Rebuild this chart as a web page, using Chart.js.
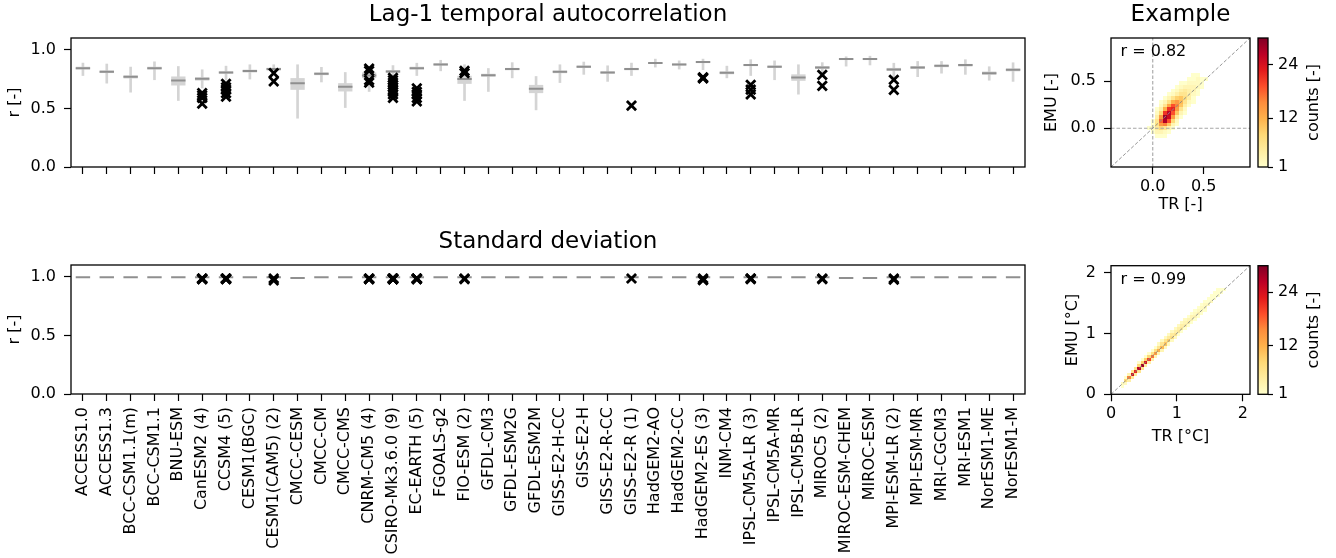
<!DOCTYPE html>
<html>
<head>
<meta charset="utf-8">
<script src="https://cdn.jsdelivr.net/npm/chart.js@4.4.0/dist/chart.umd.min.js"></script>
<style>
body { margin: 0; background: #fff; width: 1336px; height: 558px; position: relative; overflow: hidden; }
canvas { position: absolute; }
</style>
</head>
<body>
<canvas id="lag" width="1040" height="200" style="left:0;top:0"></canvas>
<canvas id="sd" width="1040" height="358" style="left:0;top:200px"></canvas>
<canvas id="exLag" width="216" height="220" style="left:1040px;top:0"></canvas>
<canvas id="exSd" width="216" height="250" style="left:1040px;top:200px"></canvas>
<canvas id="cbLag" width="86" height="200" style="left:1250px;top:0"></canvas>
<canvas id="cbSd" width="86" height="250" style="left:1250px;top:200px"></canvas>
<script>
// ---- data ----
const models = ['ACCESS1.0', 'ACCESS1.3', 'BCC-CSM1.1(m)', 'BCC-CSM1.1', 'BNU-ESM', 'CanESM2 (4)', 'CCSM4 (5)',
  'CESM1(BGC)', 'CESM1(CAM5) (2)', 'CMCC-CESM', 'CMCC-CM', 'CMCC-CMS', 'CNRM-CM5 (4)', 'CSIRO-Mk3.6.0 (9)',
  'EC-EARTH (5)', 'FGOALS-g2', 'FIO-ESM (2)', 'GFDL-CM3', 'GFDL-ESM2G', 'GFDL-ESM2M', 'GISS-E2-H-CC', 'GISS-E2-H',
  'GISS-E2-R-CC', 'GISS-E2-R (1)', 'HadGEM2-AO', 'HadGEM2-CC', 'HadGEM2-ES (3)', 'INM-CM4', 'IPSL-CM5A-LR (3)',
  'IPSL-CM5A-MR', 'IPSL-CM5B-LR', 'MIROC5 (2)', 'MIROC-ESM-CHEM', 'MIROC-ESM', 'MPI-ESM-LR (2)', 'MPI-ESM-MR',
  'MRI-CGCM3', 'MRI-ESM1', 'NorESM1-ME', 'NorESM1-M'];

// lag-1 autocorrelation box plots
const lagMedian = [0.843, 0.812, 0.769, 0.843, 0.738, 0.752, 0.806, 0.818, 0.835, 0.715, 0.795, 0.684, 0.780, 0.815,
  0.843, 0.875, 0.750, 0.783, 0.835, 0.667, 0.812, 0.855, 0.806, 0.835, 0.886, 0.875, 0.895, 0.803, 0.869, 0.855,
  0.764, 0.849, 0.920, 0.920, 0.832, 0.849, 0.863, 0.869, 0.800, 0.829];
const lagQ1 = [0.832, 0.801, 0.755, 0.832, 0.695, 0.737, 0.795, 0.806, 0.822, 0.658, 0.783, 0.644, 0.758, 0.803,
  0.832, 0.866, 0.709, 0.770, 0.825, 0.630, 0.800, 0.845, 0.795, 0.825, 0.879, 0.866, 0.886, 0.791, 0.860, 0.845,
  0.735, 0.836, 0.912, 0.912, 0.819, 0.836, 0.851, 0.857, 0.787, 0.816];
const lagQ3 = [0.855, 0.823, 0.781, 0.855, 0.772, 0.765, 0.816, 0.830, 0.846, 0.758, 0.806, 0.715, 0.806, 0.826,
  0.855, 0.885, 0.778, 0.795, 0.845, 0.700, 0.822, 0.865, 0.815, 0.845, 0.894, 0.883, 0.902, 0.815, 0.878, 0.865,
  0.790, 0.860, 0.928, 0.928, 0.845, 0.860, 0.872, 0.879, 0.814, 0.840];
const lagLow = [0.780, 0.715, 0.638, 0.744, 0.567, 0.673, 0.740, 0.750, 0.790, 0.416, 0.725, 0.507, 0.644, 0.740,
  0.780, 0.820, 0.567, 0.644, 0.760, 0.487, 0.720, 0.790, 0.730, 0.780, 0.852, 0.835, 0.830, 0.760, 0.780, 0.744,
  0.621, 0.770, 0.860, 0.870, 0.770, 0.770, 0.800, 0.790, 0.740, 0.730];
const lagHigh = [0.886, 0.878, 0.852, 0.897, 0.857, 0.829, 0.860, 0.872, 0.872, 0.872, 0.850, 0.806, 0.857, 0.865,
  0.885, 0.910, 0.872, 0.840, 0.890, 0.772, 0.872, 0.895, 0.863, 0.886, 0.920, 0.905, 0.920, 0.860, 0.915, 0.905,
  0.872, 0.890, 0.940, 0.945, 0.885, 0.900, 0.900, 0.915, 0.855, 0.889];

// standard deviation medians
const sdMedian = [0.995, 0.995, 0.995, 0.995, 0.995, 0.995, 0.995, 0.995, 0.995, 0.990, 0.995, 0.995, 0.995, 0.995,
  0.995, 0.995, 0.995, 0.995, 0.995, 0.995, 0.995, 0.995, 0.995, 0.995, 0.995, 0.995, 0.995, 0.995, 0.995, 0.995,
  0.995, 0.995, 0.990, 0.990, 0.995, 0.995, 0.995, 0.995, 0.995, 0.995];

// single ensemble members (black crosses)
const memberOf = [
  'CanESM2 (4)', 'CanESM2 (4)', 'CanESM2 (4)', 'CanESM2 (4)',
  'CCSM4 (5)', 'CCSM4 (5)', 'CCSM4 (5)', 'CCSM4 (5)', 'CCSM4 (5)',
  'CESM1(CAM5) (2)', 'CESM1(CAM5) (2)',
  'CNRM-CM5 (4)', 'CNRM-CM5 (4)', 'CNRM-CM5 (4)', 'CNRM-CM5 (4)',
  'CSIRO-Mk3.6.0 (9)', 'CSIRO-Mk3.6.0 (9)', 'CSIRO-Mk3.6.0 (9)', 'CSIRO-Mk3.6.0 (9)', 'CSIRO-Mk3.6.0 (9)',
  'CSIRO-Mk3.6.0 (9)', 'CSIRO-Mk3.6.0 (9)', 'CSIRO-Mk3.6.0 (9)', 'CSIRO-Mk3.6.0 (9)',
  'EC-EARTH (5)', 'EC-EARTH (5)', 'EC-EARTH (5)', 'EC-EARTH (5)', 'EC-EARTH (5)',
  'FIO-ESM (2)', 'FIO-ESM (2)',
  'GISS-E2-R (1)',
  'HadGEM2-ES (3)', 'HadGEM2-ES (3)', 'HadGEM2-ES (3)',
  'IPSL-CM5A-LR (3)', 'IPSL-CM5A-LR (3)', 'IPSL-CM5A-LR (3)',
  'MIROC5 (2)', 'MIROC5 (2)',
  'MPI-ESM-LR (2)', 'MPI-ESM-LR (2)'];
const lagMembers = [0.63, 0.61, 0.59, 0.54,
  0.71, 0.68, 0.66, 0.63, 0.60,
  0.80, 0.73,
  0.84, 0.82, 0.74, 0.72,
  0.76, 0.74, 0.72, 0.70, 0.68, 0.66, 0.64, 0.62, 0.59,
  0.67, 0.64, 0.62, 0.59, 0.56,
  0.82, 0.80,
  0.524,
  0.765, 0.76, 0.755,
  0.70, 0.66, 0.62,
  0.786, 0.692,
  0.744, 0.658];
const sdMembers = [0.985, 0.985, 0.98, 0.98,
  0.985, 0.985, 0.98, 0.98, 0.985,
  0.985, 0.968,
  0.985, 0.985, 0.98, 0.98,
  0.985, 0.985, 0.98, 0.98, 0.985, 0.985, 0.98, 0.98, 0.985,
  0.985, 0.985, 0.98, 0.98, 0.985,
  0.985, 0.98,
  0.985,
  0.985, 0.975, 0.97,
  0.985, 0.985, 0.98,
  0.985, 0.98,
  0.985, 0.975];

const rTicks = [0.0, 0.5, 1.0];

// example 2d histogram, lag-1 autocorrelation (rows from top to bottom)
const acBinX = [-0.06, -0.02, 0.02, 0.06, 0.10, 0.14, 0.18, 0.22, 0.26, 0.30, 0.34, 0.38, 0.42, 0.46, 0.50];
const acBinY = [0.54, 0.50, 0.46, 0.42, 0.38, 0.34, 0.30, 0.26, 0.22, 0.18, 0.14, 0.10, 0.06, 0.02, -0.02, -0.06, -0.10];
const acCounts = [
  [0, 0, 0, 0, 0, 0, 0, 0, 0, 0, 0, 1, 1, 0, 0],
  [0, 0, 0, 0, 0, 0, 0, 0, 0, 0, 1, 1, 2, 1, 1],
  [0, 0, 0, 0, 0, 0, 0, 0, 1, 1, 2, 2, 2, 1, 0],
  [0, 0, 0, 0, 0, 0, 0, 1, 2, 3, 3, 3, 2, 1, 0],
  [0, 0, 0, 0, 0, 0, 1, 2, 4, 5, 4, 3, 1, 0, 0],
  [0, 0, 0, 0, 0, 1, 2, 4, 6, 6, 4, 2, 1, 0, 0],
  [0, 0, 0, 0, 1, 3, 6, 9, 10, 7, 4, 1, 0, 0, 0],
  [0, 0, 0, 1, 3, 7, 12, 14, 11, 6, 2, 1, 0, 0, 0],
  [0, 0, 0, 2, 6, 13, 19, 16, 10, 4, 1, 0, 0, 0, 0],
  [0, 0, 1, 4, 12, 21, 22, 14, 6, 2, 0, 0, 0, 0, 0],
  [0, 0, 2, 8, 21, 26, 19, 10, 3, 1, 0, 0, 0, 0, 0],
  [0, 0, 4, 14, 28, 25, 14, 5, 1, 0, 0, 0, 0, 0, 0],
  [0, 1, 6, 18, 27, 19, 8, 2, 0, 0, 0, 0, 0, 0, 0],
  [0, 1, 7, 14, 16, 10, 3, 1, 0, 0, 0, 0, 0, 0, 0],
  [1, 2, 5, 8, 6, 3, 1, 0, 0, 0, 0, 0, 0, 0, 0],
  [0, 1, 3, 3, 2, 1, 0, 0, 0, 0, 0, 0, 0, 0, 0],
  [0, 0, 1, 1, 1, 0, 0, 0, 0, 0, 0, 0, 0, 0, 0]];

// example 2d histogram, standard deviation (band along the 1:1 line)
const sdBinX = [0.15, 0.20, 0.25, 0.30, 0.35, 0.40, 0.45, 0.50, 0.55, 0.60, 0.65, 0.70, 0.75, 0.80, 0.85, 0.90,
  0.95, 1.00, 1.05, 1.10, 1.15, 1.20, 1.25, 1.30, 1.35, 1.40, 1.45, 1.50, 1.55, 1.60, 1.65, 1.70];
const sdOnLine = [2, 8, 16, 24, 22, 26, 28, 24, 20, 17, 14, 12, 11, 10, 9, 7, 6, 5, 5, 4, 4, 3, 3, 3, 2, 2, 2, 2, 1, 1, 1, 1];
const sdAbove = [0, 1, 3, 6, 6, 8, 9, 9, 8, 7, 7, 6, 6, 6, 5, 5, 4, 4, 4, 3, 3, 3, 2, 2, 2, 2, 1, 1, 1, 1, 1, 0];
const sdAbove2 = [0, 0, 0, 0, 0, 1, 1, 1, 1, 1, 1, 2, 2, 2, 2, 2, 2, 2, 2, 2, 1, 1, 1, 1, 1, 1, 1, 1, 1, 1, 0, 0];
const sdBelow = [1, 2, 4, 5, 5, 6, 6, 5, 4, 4, 3, 3, 3, 2, 2, 2, 2, 1, 1, 1, 1, 1, 1, 1, 1, 1, 0, 0, 0, 0, 0, 0];

const cbTicks = [1, 12, 24];

// ---- styles ----
const CMIN = 1, CMAX = 30;
const YLORRD = ['#ffffcc', '#ffeda0', '#fed976', '#feb24c', '#fd8d3c', '#fc4e2a', '#e31a1c', '#bd0026', '#800026'];
const WHISKER = '#d4d4d4', BOX = '#d4d4d4', MEDIAN = '#8f8f8f';

Chart.defaults.font.family = "'DejaVu Sans', sans-serif";
Chart.defaults.font.size = 16;
Chart.defaults.color = '#000';
Chart.defaults.animation = false;
Chart.defaults.events = [];
Chart.defaults.plugins.legend.display = false;
Chart.defaults.plugins.tooltip.enabled = false;

function hexRgb(h) {
  return [parseInt(h.slice(1, 3), 16), parseInt(h.slice(3, 5), 16), parseInt(h.slice(5, 7), 16)];
}
function cmap(t) {
  t = Math.max(0, Math.min(1, t));
  const p = t * (YLORRD.length - 1);
  const i = Math.min(Math.floor(p), YLORRD.length - 2);
  const f = p - i;
  const a = hexRgb(YLORRD[i]), b = hexRgb(YLORRD[i + 1]);
  const c = a.map((v, k) => Math.round(v + (b[k] - v) * f));
  return `rgb(${c[0]},${c[1]},${c[2]})`;
}

// axes frame, drawn over the data like matplotlib spines
const frame = {
  id: 'frame',
  afterDatasetsDraw(chart) {
    const a = chart.chartArea, ctx = chart.ctx;
    ctx.save();
    ctx.strokeStyle = '#000';
    ctx.lineWidth = 1.3;
    ctx.strokeRect(a.left, a.top, a.right - a.left, a.bottom - a.top);
    ctx.restore();
  }
};

function makeBoxChart(id, titleText, titleTop, axisHeight, median, q1, q3, low, high, members, showLabels) {
  const datasets = [];
  if (low) {
    datasets.push({ type: 'bar', data: low.map((v, i) => [v, high[i]]), backgroundColor: WHISKER,
      barThickness: 2, grouped: false, order: 4 });
  }
  if (q1) {
    datasets.push({ type: 'bar', data: q1.map((v, i) => [v, q3[i]]), backgroundColor: BOX,
      barPercentage: 0.6, categoryPercentage: 1, grouped: false, order: 3 });
  }
  datasets.push({ type: 'line', data: median, showLine: false, pointStyle: 'line', pointRadius: 7.2,
    pointBorderColor: MEDIAN, borderColor: MEDIAN, pointBorderWidth: 2, order: 2 });
  datasets.push({ type: 'line', data: members.map((v, i) => ({ x: memberOf[i], y: v })), showLine: false,
    pointStyle: 'crossRot', pointRadius: 6.5, pointBorderColor: '#000', borderColor: '#000',
    pointBorderWidth: 2.8, order: 1 });

  return new Chart(document.getElementById(id), {
    type: 'bar',
    data: { labels: models, datasets },
    options: {
      responsive: false,
      layout: { padding: { left: 0, right: 15, top: 0, bottom: 0 } },
      plugins: {
        title: { display: true, text: titleText, fullSize: false, color: '#000',
          font: { size: 23, weight: 'normal' }, padding: { top: titleTop, bottom: 9.2 } }
      },
      scales: {
        x: {
          grid: { offset: false, drawOnChartArea: false, tickLength: 7, color: '#000', tickWidth: 1.2 },
          border: { display: false },
          ticks: { display: showLabels, autoSkip: false, minRotation: 90, maxRotation: 90, padding: 6 },
          afterFit(s) { s.height = axisHeight; }
        },
        y: {
          min: 0, max: 1.1,
          grid: { drawOnChartArea: false, tickLength: 7, color: '#000', tickWidth: 1.2 },
          border: { display: false },
          ticks: { padding: 8, callback: v => v.toFixed(1) },
          afterBuildTicks(s) { s.ticks = rTicks.map(v => ({ value: v })); },
          afterFit(s) { s.width = 71; },
          title: { display: true, text: 'r [-]', padding: { top: 5.4, bottom: 0 } }
        }
      }
    },
    plugins: [frame]
  });
}

function makeHist(id, opt) {
  const cellsPlugin = {
    id: 'hist2d',
    beforeDatasetsDraw(chart) {
      const { ctx, chartArea: a, scales: { x, y } } = chart;
      ctx.save();
      ctx.beginPath();
      ctx.rect(a.left, a.top, a.right - a.left, a.bottom - a.top);
      ctx.clip();
      for (const c of opt.cells) {
        const x0 = Math.round(x.getPixelForValue(c.x)), x1 = Math.round(x.getPixelForValue(c.x + opt.bin));
        const y0 = Math.round(y.getPixelForValue(c.y)), y1 = Math.round(y.getPixelForValue(c.y + opt.bin));
        ctx.fillStyle = cmap((c.n - CMIN) / (CMAX - CMIN));
        ctx.fillRect(x0, y1, x1 - x0, y0 - y1);
      }
      ctx.restore();
    },
    afterDatasetsDraw(chart) {
      const { ctx, chartArea: a } = chart;
      ctx.save();
      ctx.font = "16px 'DejaVu Sans'";
      ctx.fillStyle = '#000';
      ctx.textBaseline = 'middle';
      ctx.fillText(opt.note, a.left + 9.5, a.top + 14);
      ctx.restore();
    }
  };
  const lo = opt.lim[0], hi = opt.lim[1];
  const refLine = (pts, color, width) => ({ type: 'line', data: pts, showLine: true, pointRadius: 0,
    borderColor: color, borderWidth: width, borderDash: [3.5, 2] });
  const datasets = [refLine([{ x: lo, y: lo }, { x: hi, y: hi }], '#8a8a8a', 0.9)];
  if (opt.zeroLines) {
    datasets.push(refLine([{ x: 0, y: lo }, { x: 0, y: hi }], '#a6a6a6', 1.1));
    datasets.push(refLine([{ x: lo, y: 0 }, { x: hi, y: 0 }], '#a6a6a6', 1.1));
  }
  const axis = (titleText, titlePad, extra) => Object.assign({
    type: 'linear', min: lo, max: hi,
    grid: { drawOnChartArea: false, tickLength: 7, color: '#000', tickWidth: 1.2 },
    border: { display: false },
    ticks: { callback: v => opt.fmt(v) },
    afterBuildTicks(s) { s.ticks = opt.ticks.map(v => ({ value: v })); },
    title: { display: true, text: titleText, padding: titlePad }
  }, extra);
  return new Chart(document.getElementById(id), {
    type: 'scatter',
    data: { datasets },
    options: {
      responsive: false,
      layout: { padding: { left: 0, right: 6, top: opt.padTop, bottom: 0 } },
      plugins: {
        title: { display: !!opt.title, text: opt.title, fullSize: false, color: '#000',
          font: { size: 23, weight: 'normal' }, padding: { top: 1.2, bottom: 9.2 } }
      },
      scales: {
        x: axis(opt.xTitle, { top: 0, bottom: opt.xTitlePad },
          { ticks: { padding: 3, callback: v => opt.fmt(v) }, afterFit(s) { s.height = opt.axisHeight; } }),
        y: axis(opt.yTitle, { top: opt.yTitlePad, bottom: 0 },
          { ticks: { padding: 8, callback: v => opt.fmt(v) }, afterFit(s) { s.width = 71; } })
      }
    },
    plugins: [cellsPlugin, frame]
  });
}

function makeColorbar(id, padTop, padBottom) {
  const bar = {
    id: 'cbar',
    beforeDatasetsDraw(chart) {
      const { ctx, chartArea: a, scales: { y } } = chart;
      const g = ctx.createLinearGradient(0, y.getPixelForValue(CMIN), 0, y.getPixelForValue(CMAX));
      YLORRD.forEach((c, i) => g.addColorStop(i / (YLORRD.length - 1), c));
      ctx.save();
      ctx.fillStyle = g;
      ctx.fillRect(a.left, a.top, a.right - a.left, a.bottom - a.top);
      ctx.font = "16px 'DejaVu Sans'";
      ctx.fillStyle = '#000';
      ctx.textAlign = 'center';
      ctx.textBaseline = 'middle';
      ctx.translate(64, (a.top + a.bottom) / 2);
      ctx.rotate(-Math.PI / 2);
      ctx.fillText('counts [-]', 0, 0);
      ctx.restore();
    }
  };
  return new Chart(document.getElementById(id), {
    type: 'scatter',
    data: { datasets: [] },
    options: {
      responsive: false,
      layout: { padding: { left: 8, right: 0, top: padTop, bottom: padBottom } },
      scales: {
        x: { display: false },
        y: {
          position: 'right', min: CMIN, max: CMAX,
          grid: { drawOnChartArea: false, tickLength: 5, color: '#000', tickWidth: 1.2 },
          border: { display: false },
          ticks: { padding: 5 },
          afterBuildTicks(s) { s.ticks = cbTicks.map(v => ({ value: v })); },
          afterFit(s) { s.width = 68; }
        }
      }
    },
    plugins: [bar, frame]
  });
}

// ---- build ----
makeBoxChart('lag', 'Lag-1 temporal autocorrelation', 1.2, 33,
  lagMedian, lagQ1, lagQ3, lagLow, lagHigh, lagMembers, false);
makeBoxChart('sd', 'Standard deviation', 28.2, 164,
  sdMedian, null, null, null, null, sdMembers, true);

const acCells = [];
acBinY.forEach((yb, r) => acBinX.forEach((xb, c) => {
  if (acCounts[r][c] > 0) acCells.push({ x: xb, y: yb, n: acCounts[r][c] });
}));
makeHist('exLag', {
  title: 'Example', padTop: 0, axisHeight: 53, lim: [-0.41, 0.955], ticks: [0, 0.5],
  fmt: v => v.toFixed(1), xTitle: 'TR [-]', yTitle: 'EMU [-]', xTitlePad: 5.4, yTitlePad: 2.4,
  cells: acCells, bin: 0.04, note: 'r = 0.82', zeroLines: true
});

const sdCells = [];
sdBinX.forEach((xb, i) => {
  if (sdAbove2[i] > 0) sdCells.push({ x: xb, y: xb + 0.10, n: sdAbove2[i] });
  if (sdAbove[i] > 0) sdCells.push({ x: xb, y: xb + 0.05, n: sdAbove[i] });
  if (sdBelow[i] > 0) sdCells.push({ x: xb, y: xb - 0.05, n: sdBelow[i] });
  if (sdOnLine[i] > 0) sdCells.push({ x: xb, y: xb, n: sdOnLine[i] });
});
makeHist('exSd', {
  title: '', padTop: 65.7, axisHeight: 55.7, lim: [0, 2.11], ticks: [0, 1, 2],
  fmt: v => v.toFixed(0), xTitle: 'TR [°C]', yTitle: 'EMU [°C]', xTitlePad: 3.7, yTitlePad: 23.4,
  cells: sdCells, bin: 0.05, note: 'r = 0.99', zeroLines: false
});

makeColorbar('cbLag', 38, 33);
makeColorbar('cbSd', 65.7, 55.7);
</script>
</body>
</html>
